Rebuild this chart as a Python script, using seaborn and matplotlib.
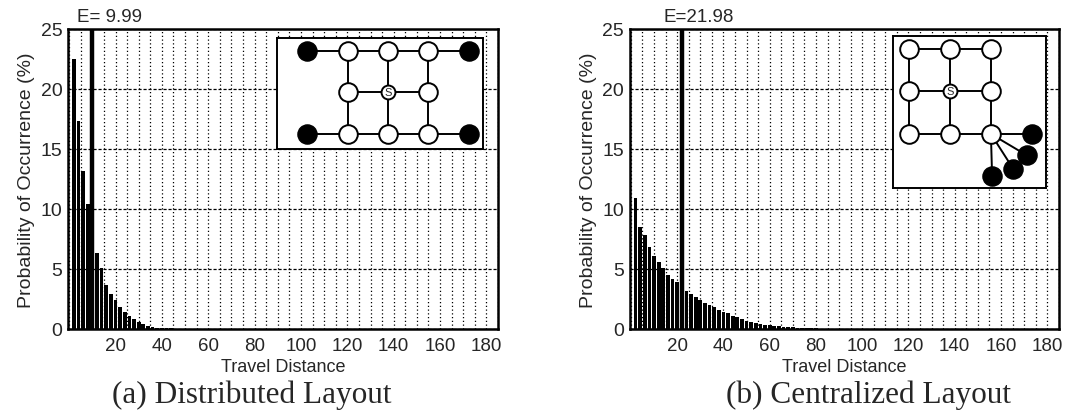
"""
Travel distance distribution for two layouts (distributed vs centralized).
Bars = probability of each travel distance, thick line = expected value E.
"""
import matplotlib
matplotlib.use("Agg")
import matplotlib.pyplot as plt
from matplotlib.ticker import MultipleLocator
import seaborn as sns

# data ------------------------------------------------------------------
dist_a = list(range(2, 52, 2))
prob_a = [22.5, 17.3, 13.2, 10.4, 8.0, 6.3, 5.1, 3.7, 2.9, 2.4,
          1.8, 1.4, 1.1, 0.8, 0.55, 0.4, 0.28, 0.2, 0.12, 0.08,
          0.05, 0.04, 0.03, 0.02, 0.01]
E_a = 9.99

dist_b = list(range(2, 92, 2))
prob_b = [10.9, 8.5, 7.8, 6.85, 6.1, 5.55, 5.1, 4.5, 4.15, 3.9,
          3.6, 3.15, 2.9, 2.7, 2.45, 2.2, 2.0, 1.8, 1.6, 1.45,
          1.3, 1.1, 0.97, 0.83, 0.7, 0.6, 0.5, 0.42, 0.36, 0.33,
          0.28, 0.22, 0.19, 0.16, 0.14, 0.1, 0.08, 0.07, 0.05, 0.04,
          0.03, 0.03, 0.02, 0.02, 0.01]
E_b = 21.98

captions = ["(a) Distributed Layout", "(b) Centralized Layout"]
x_ticks = [20, 40, 60, 80, 100, 120, 140, 160, 180]
y_ticks = [0, 5, 10, 15, 20, 25]

# inset layouts (grid column, row) -------------------------------------
white_a = [(1, 0), (2, 0), (3, 0), (1, 1), (3, 1), (1, 2), (2, 2), (3, 2)]
black_a = [(0, 0), (4, 0), (0, 2), (4, 2)]
src_a = (2, 1)
edges_a = [((0, 0), (4, 0)), ((1, 1), (3, 1)), ((0, 2), (4, 2)),
           ((1, 0), (1, 2)), ((2, 0), (2, 2)), ((3, 0), (3, 2))]

white_b = [(0, 0), (1, 0), (2, 0), (0, 1), (2, 1), (0, 2), (1, 2), (2, 2)]
black_b = [(3.0, 2.0), (2.87, 2.5), (2.55, 2.83), (2.03, 3.0)]
src_b = (1, 1)
edges_b = [((0, 0), (2, 0)), ((0, 1), (2, 1)), ((0, 2), (2, 2)),
           ((0, 0), (0, 2)), ((1, 0), (1, 2)), ((2, 0), (2, 2))] + \
          [((2, 2), p) for p in black_b]

sns.set_style("white")
plt.rcParams["font.family"] = ["Liberation Sans", "DejaVu Sans"]

fig = plt.figure(figsize=(10.71, 4.14), dpi=100)
ax_a = fig.add_axes([0.0635, 0.203, 0.4015, 0.7246])
ax_b = fig.add_axes([0.588, 0.203, 0.4006, 0.7246])


def draw_hist(ax, dist, prob, E):
    sns.barplot(x=dist, y=prob, native_scale=True, color="black",
                width=0.8, errorbar=None, linewidth=0, ax=ax, zorder=3)
    ax.axvline(E, color="black", lw=3.2, zorder=4)
    ax.text(E + 7.5, 25.65, f"E={E:5.2f}", ha="center", va="baseline", fontsize=13.5)
    ax.set_xlim(-0.5, 185)
    ax.set_ylim(0, 25)
    ax.set_xticks(x_ticks)
    ax.set_yticks(y_ticks)
    ax.xaxis.set_minor_locator(MultipleLocator(5))
    ax.grid(False)
    ax.grid(which="minor", axis="x", color="black", lw=0.9, ls=(0, (1, 2)))
    ax.grid(which="major", axis="x", color="black", lw=0.9, ls=(0, (1, 2)))
    ax.grid(which="major", axis="y", color="black", lw=0.9, ls=(0, (2.5, 1.5)))
    ax.set_axisbelow(True)
    for s in ax.spines.values():
        s.set_visible(True)
        s.set_linewidth(1.8)
        s.set_color("black")
    ax.tick_params(axis="x", which="both", length=0, labelsize=13.5, pad=6)
    ax.tick_params(axis="y", direction="in", length=5, width=1.2, labelsize=14, pad=4)
    ax.set_xlabel("Travel Distance", fontsize=13, labelpad=3)
    ax.set_ylabel("Probability of Occurrence (%)", fontsize=14, labelpad=4)


def draw_layout(ax, white, black, src, edges):
    for (x0, y0), (x1, y1) in edges:
        ax.plot([x0, x1], [y0, y1], color="black", lw=1.4, zorder=1)
    sns.scatterplot(x=[p[0] for p in white], y=[p[1] for p in white], s=180,
                    color="white", edgecolor="black", linewidth=1.4, ax=ax, zorder=2)
    sns.scatterplot(x=[p[0] for p in black], y=[p[1] for p in black], s=190,
                    color="black", edgecolor="black", linewidth=1, ax=ax, zorder=2)
    sns.scatterplot(x=[src[0]], y=[src[1]], s=100, color="white",
                    edgecolor="black", linewidth=1.4, ax=ax, zorder=3)
    ax.text(src[0], src[1], "S", ha="center", va="center", fontsize=8, zorder=4)
    ax.set_xticks([])
    ax.set_yticks([])
    ax.set_facecolor("white")
    for s in ax.spines.values():
        s.set_linewidth(1.4)
        s.set_color("black")


draw_hist(ax_a, dist_a, prob_a, E_a)
draw_hist(ax_b, dist_b, prob_b, E_b)

ins_a = ax_a.inset_axes([0.486, 0.6, 0.479, 0.37], zorder=6)
draw_layout(ins_a, white_a, black_a, src_a, edges_a)
ins_a.set_xlim(-0.745, 4.35)
ins_a.set_ylim(2.36, -0.31)

ins_b = ax_b.inset_axes([0.613, 0.47, 0.357, 0.507], zorder=6)
draw_layout(ins_b, white_b, black_b, src_b, edges_b)
ins_b.set_xlim(-0.39, 3.34)
ins_b.set_ylim(3.27, -0.306)

fig.text(252 / 1071, 1 - 395 / 414, captions[0], ha="center", va="center",
         fontsize=22.5, family=["Liberation Serif", "DejaVu Serif"])
fig.text(869 / 1071, 1 - 395 / 414, captions[1], ha="center", va="center",
         fontsize=22.5, family=["Liberation Serif", "DejaVu Serif"])

fig.savefig("out.png", dpi=100)
plt.close(fig)
